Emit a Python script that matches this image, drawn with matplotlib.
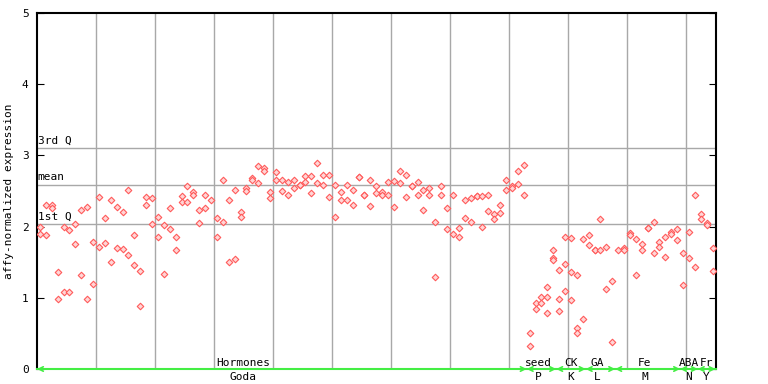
import matplotlib
matplotlib.use('Agg')
import matplotlib.pyplot as plt

# expression values per sample (replicates)
samples = [
    [2.00, 1.89], [2.31, 1.88], [2.31, 2.26], [1.36, 0.98], [2.00, 1.08],
    [1.95, 1.08], [2.03, 1.75], [2.24, 1.32], [2.27, 0.98], [1.79, 1.19],
    [2.41, 1.72], [2.12, 1.77], [2.38, 1.50], [2.27, 1.70], [2.20, 1.68],
    [2.51, 1.60], [1.88, 1.46], [1.37, 0.89], [2.41, 2.30], [2.40, 2.03],
    [2.14, 1.86], [2.02, 1.34], [2.26, 1.96], [1.85, 1.67], [2.43, 2.34],
    [2.57, 2.34], [2.48, 2.44], [2.24, 2.05], [2.44, 2.26], [2.37],
    [2.12, 1.86], [2.66, 2.06], [2.38, 1.50], [2.52, 1.54], [2.20, 2.14],
    [2.54, 2.50], [2.68, 2.65], [2.85, 2.61], [2.82, 2.78], [2.48, 2.40],
    [2.77, 2.65], [2.65, 2.50], [2.62, 2.45], [2.66, 2.54], [2.59, 2.58],
    [2.71, 2.62], [2.71, 2.47], [2.89, 2.61], [2.73, 2.59], [2.72, 2.41],
    [2.58, 2.13], [2.48, 2.38], [2.58, 2.38], [2.52, 2.31], [2.69, 2.69],
    [2.45, 2.45], [2.65, 2.29], [2.57, 2.47], [2.48, 2.44], [2.62, 2.45],
    [2.64, 2.27], [2.78, 2.61], [2.73, 2.41], [2.57, 2.57], [2.62, 2.45],
    [2.51, 2.23], [2.54, 2.45], [2.07, 1.29], [2.57, 2.45], [2.26, 1.96],
    [2.44, 1.89], [1.98, 1.85], [2.37, 2.12], [2.40, 2.07], [2.43, 2.43],
    [2.43, 2.00], [2.44, 2.22], [2.17, 2.10], [2.31, 2.19], [2.66, 2.51],
    [2.57, 2.54], [2.78, 2.60], [2.86, 2.44], [0.50, 0.33], [0.92, 0.84],
    [1.01, 0.92], [1.15, 1.01, 0.78], [1.67, 1.56, 1.53], [1.39, 0.98, 0.82],
    [1.86, 1.47, 1.09], [1.84, 1.36, 0.97], [1.32, 0.57, 0.50], [1.82, 0.70],
    [1.88, 1.74], [1.67, 1.67], [2.10, 1.67], [1.72, 1.13], [1.23, 0.38],
    [1.67], [1.70, 1.67], [1.91, 1.88], [1.82, 1.32], [1.75, 1.67],
    [1.98, 1.98], [2.07, 1.63], [1.79, 1.72], [1.86, 1.58], [1.92, 1.89],
    [1.96, 1.81], [1.63, 1.18], [1.92, 1.56], [2.44, 1.43], [2.17, 2.10],
    [2.05, 2.02], [1.70, 1.37],
]

# quartile / mean reference lines
stat_names = ['3rd Q', 'mean', '1st Q']
stat_values = [3.10, 2.58, 2.03]

# experiment groups
group_top = ['Hormones', 'seed', 'CK', 'GA', 'Fe', 'ABA', 'Fr']
group_bottom = ['Goda', 'P', 'K', 'L', 'M', 'N', 'Y']
group_start = [0, 83, 88, 93, 98, 109, 112]
group_end = [82, 87, 92, 97, 108, 111, 114]
group_label_pos = [35.0, 85.0, 90.5, 95.0, 103.0, 110.5, 113.5]

mono = 'DejaVu Sans Mono'
red = '#ff5a5a'
n = len(samples)

fig = plt.figure(figsize=(7.68, 3.84), dpi=100)
ax = fig.add_axes([37 / 768, 15 / 384, 678.5 / 768, 356 / 384])

xs, ys = [], []
for i, vals in enumerate(samples):
    for v in vals:
        xs.append(i + 0.5)
        ys.append(v)
ax.scatter(xs, ys, marker='D', s=11, facecolor='#ffd6d6', edgecolor=red,
           linewidth=0.8, zorder=3)

ax.set_xlim(0, n)
ax.set_ylim(0, 5)

# vertical grid every 10 samples
for gx in range(10, n, 10):
    ax.axvline(gx, color='#a8a8a8', lw=1, zorder=1)

for name, val in zip(stat_names, stat_values):
    ax.axhline(val, color='#a8a8a8', lw=1, zorder=1)
    ax.text(0.1, val + 0.04, name, fontsize=8, family=mono, ha='left', va='bottom')

ax.set_yticks([0, 1, 2, 3, 4, 5])
ax.set_yticklabels(['0', '1', '2', '3', '4', '5'], family=mono, fontsize=8)
ax.tick_params(axis='y', direction='in', length=5, right=True, left=True, pad=6)
ax.set_xticks([])
ax.set_ylabel('affy-normalized expression', family=mono, fontsize=8, labelpad=6)

for s in ['left', 'right', 'top']:
    ax.spines[s].set_color('black')
    ax.spines[s].set_linewidth(1.5)
ax.spines['bottom'].set_color('#44ee44')
ax.spines['bottom'].set_linewidth(1.5)

for top, bot, a, b, pos in zip(group_top, group_bottom, group_start, group_end, group_label_pos):
    ax.annotate('', xy=(a, 0), xytext=(b + 1, 0),
                arrowprops=dict(arrowstyle='<->', color='#44ee44', lw=1.2,
                                mutation_scale=8, shrinkA=0, shrinkB=0),
                annotation_clip=False)
    ax.text(pos, 0.02, top, fontsize=8, family=mono, ha='center', va='bottom')
    ax.text(pos, -0.04, bot, fontsize=8, family=mono, ha='center', va='top',
            clip_on=False)

fig.savefig('out.png', dpi=100)
